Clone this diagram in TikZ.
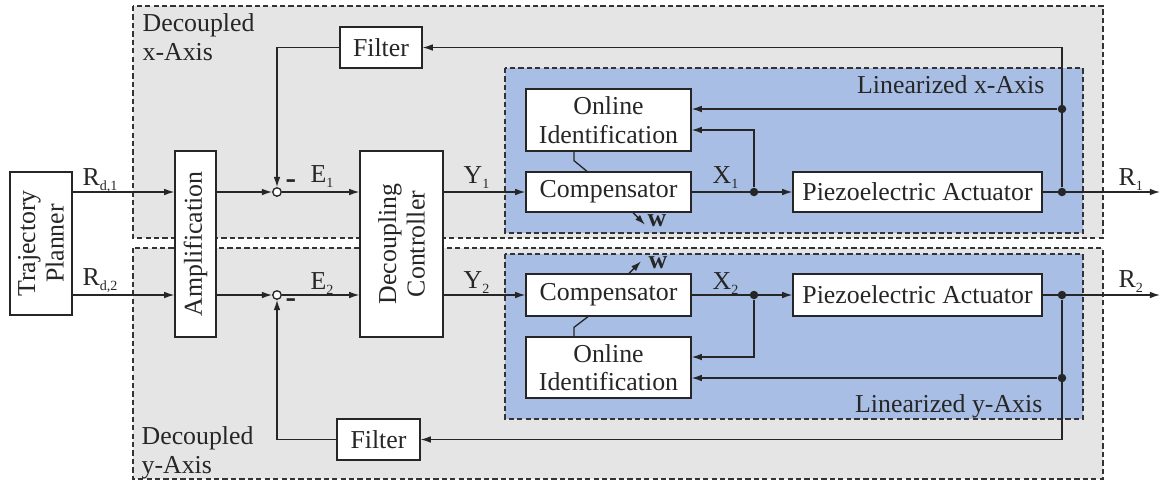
\documentclass[tikz,border=0pt]{standalone}
\usepackage{fontspec}
\setmainfont{Liberation Serif}
\usetikzlibrary{arrows.meta}

\definecolor{bggray}{RGB}{229,229,229}
\definecolor{linblue}{RGB}{169,190,228}
\newcommand{\sig}[2]{#1\raisebox{-0.45ex}{\fontsize{8}{8}\selectfont #2}}

\begin{document}
\begin{tikzpicture}[x=0.02cm, y=-0.02cm, line width=0.75pt, color=black!85,
		font=\fontsize{14.7}{16.3}\selectfont,
		>={Latex[length=5.8pt,width=3.8pt]},
		block/.style={draw, fill=white, align=center, inner sep=0pt},
		area/.style={draw=black!80, dash pattern=on 3pt off 1.8pt},
		sum/.style={draw, circle, fill=white, inner sep=0pt, minimum size=0.17cm},
		dot/.style={fill, circle, inner sep=0pt, minimum size=0.17cm},
		lbl/.style={inner sep=0pt}]
		\useasboundingbox (0,0) rectangle (1161,481);
		% decoupled and linearized axes
		\draw[area, fill=bggray] (133,6) rectangle (1103,238);
		\draw[area, fill=bggray] (133,248) rectangle (1103,479);
		\draw[area, fill=linblue] (505,68) rectangle (1083,233);
		\draw[area, fill=linblue] (505,254) rectangle (1083,419);
		\node[lbl, anchor=north west, align=left] (decx) at (142,13) {Decoupled\\x-Axis};
		\node[lbl, anchor=north west, align=left] (decy) at (141,426) {Decoupled\\y-Axis};
		\node[lbl, anchor=base east] (linx) at (1045,93) {Linearized x-Axis};
		\node[lbl, anchor=base east] (liny) at (1043,412) {Linearized y-Axis};

		% blocks
		\node[block, rotate=90, minimum width=2.86cm, minimum height=1.24cm] (plan) at (41,243.5) {Trajectory\\Planner};
		\node[block, rotate=90, minimum width=3.72cm, minimum height=0.82cm] (amp) at (195.5,244) {Amplification};
		\node[block, rotate=90, minimum width=3.72cm, minimum height=1.66cm] (dec) at (401.5,244) {Decoupling\\Controller};
		\node[block, minimum width=1.64cm, minimum height=0.82cm] (filt1) at (381,47.5) {Filter};
		\node[block, minimum width=1.66cm, minimum height=0.82cm] (filt2) at (378.5,439.5) {Filter};
		\node[block, minimum width=3.3cm, minimum height=1.24cm] (online1) at (608.5,120) {Online\\Identification};
		\node[block, minimum width=3.3cm, minimum height=0.8cm] (comp1) at (608.5,192) {Compensator};
		\node[block, minimum width=4.98cm, minimum height=0.8cm] (piezo1) at (917.5,192) {Piezoelectric Actuator};
		\node[block, minimum width=3.3cm, minimum height=0.84cm] (comp2) at (608.5,295) {Compensator};
		\node[block, minimum width=3.3cm, minimum height=1.22cm] (online2) at (608.5,367.5) {Online\\Identification};
		\node[block, minimum width=4.98cm, minimum height=0.84cm] (piezo2) at (917.5,295) {Piezoelectric Actuator};

		% junctions
		\node[sum] (s1) at (277,192) {};
		\node[sum] (s2) at (277,295) {};
		\node[dot] (j1) at (754,192) {};
		\node[dot] (k1) at (1062,192) {};
		\node[dot] (m1) at (1062,109) {};
		\node[dot] (j2) at (754,295) {};
		\node[dot] (k2) at (1062,295) {};
		\node[dot] (m2) at (1062,378) {};
		\coordinate (out1) at (1160,192);
		\coordinate (out2) at (1160,295);

		% forward paths
		\foreach \r in {1,2}{
			\draw[->] (plan.south |- s\r) -- (amp.north |- s\r);
			\draw[->] (amp.south |- s\r) -- (s\r);
			\draw[->] (s\r) -- (dec.north |- s\r);
			\draw[->] (dec.south |- s\r) -- (comp\r);
			\draw[->] (comp\r) -- (piezo\r);
			\draw[->] (piezo\r) -- (out\r);
			\draw[->] (m\r) -- (m\r -| online\r.east);
			\draw[->] (k\r) -- (k\r |- filt\r) -- (filt\r);
			\draw[->] (filt\r) -| (s\r);
		}
		\draw[->] (j1) |- ([yshift=-0.2cm]online1.east);
		\draw[->] (j2) |- ([yshift=0.21cm]online2.east);
		\draw ([xshift=-0.69cm]online1.south) -- ++(0,9) -- ([xshift=-0.43cm]comp1.north);
		\draw ([xshift=-0.41cm]comp2.south) -- ([xshift=-0.69cm,yshift=0.18cm]online2.north) -- ([xshift=-0.69cm]online2.north);

		% adaptation parameters
		\draw[->] ([xshift=0.49cm]comp1.south) -- ++(12,12) coordinate (w1);
		\draw[->] ([xshift=0.41cm]comp2.north) -- ++(12,-12) coordinate (w2);
		\node[lbl] (wl1) at (657,221) {\textbf{w}};
		\node[lbl] (wl2) at (658,263) {\textbf{w}};

		% signals
		\node[lbl, font=\fontsize{18}{18}\selectfont\bfseries] (neg1) at (291,184) {-};
		\node[lbl, font=\fontsize{18}{18}\selectfont\bfseries] (neg2) at (291,303) {-};
		\node[lbl, anchor=base west] (rd1) at (82,185) {\sig{R}{d,1}};
		\node[lbl, anchor=base west] (rd2) at (82,285) {\sig{R}{d,2}};
		\node[lbl, anchor=base west] (e1) at (310,182) {\sig{E}{1}};
		\node[lbl, anchor=base west] (e2) at (310,289) {\sig{E}{2}};
		\node[lbl, anchor=base west] (y1) at (463,183) {\sig{Y}{1}};
		\node[lbl, anchor=base west] (y2) at (463,288) {\sig{Y}{2}};
		\node[lbl, anchor=base west] (x1) at (712,183) {\sig{X}{1}};
		\node[lbl, anchor=base west] (x2) at (712,289) {\sig{X}{2}};
		\node[lbl, anchor=base west] (r1) at (1118,185) {\sig{R}{1}};
		\node[lbl, anchor=base west] (r2) at (1118,287) {\sig{R}{2}};
	\end{tikzpicture}
\end{document}
